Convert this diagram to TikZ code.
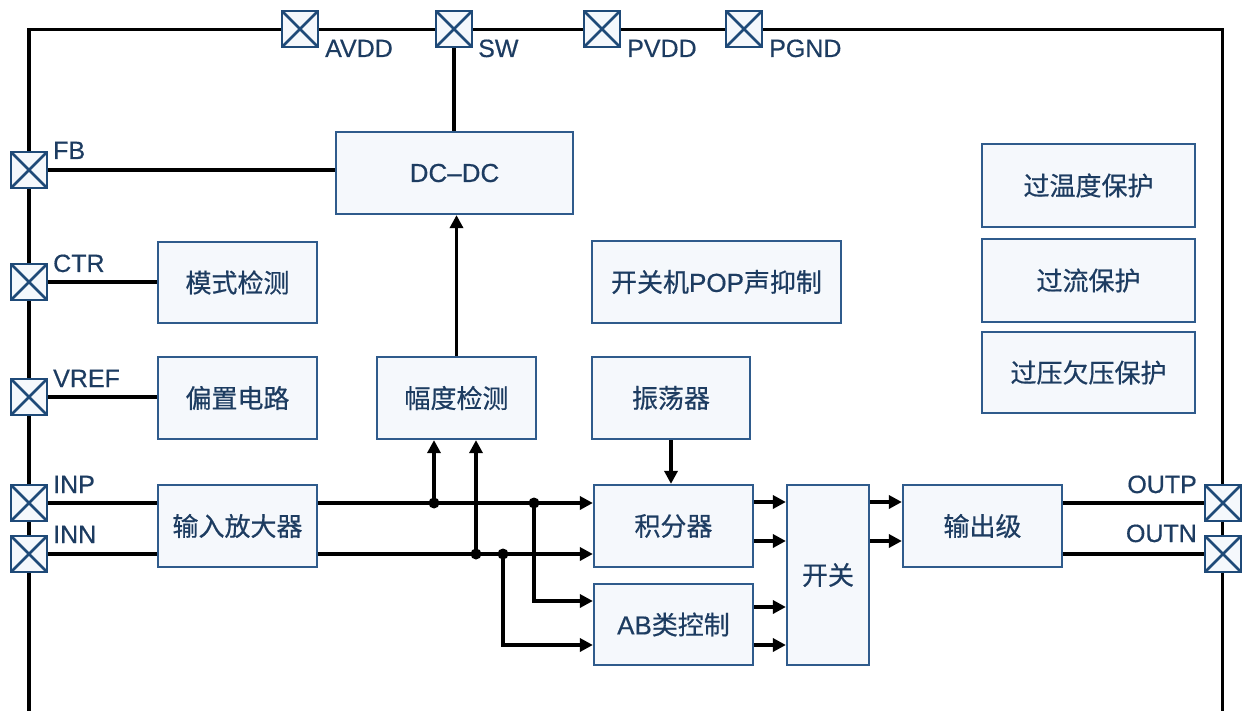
\documentclass[tikz,border=0pt]{standalone}
\usepackage{fontspec}
\setmainfont[FakeBold=0.5]{Liberation Sans}
\newfontfamily\cjk[FakeBold=0.5]{Noto Sans CJK SC}
\usetikzlibrary{arrows.meta,calc}
\definecolor{pinc}{HTML}{1F4A78}
\definecolor{boxc}{HTML}{2F5B8C}
\definecolor{txtc}{HTML}{1D3C61}
\definecolor{boxfill}{HTML}{F5F8FC}
\tikzset{
  blk/.style={draw=boxc, fill=boxfill, line width=2.2pt, text=txtc, inner sep=0pt,
    font=\fontsize{26}{30}\selectfont},
  pin/.style={draw=pinc, fill=boxfill, line width=2.8pt, minimum size=36pt, inner sep=0pt,
    path picture={\draw[pinc,line width=2.8pt]
      (path picture bounding box.north west) -- (path picture bounding box.south east)
      (path picture bounding box.south west) -- (path picture bounding box.north east);}},
  plabel/.style={text=txtc, inner sep=0pt, font=\fontsize{25}{30}\selectfont},
  wire/.style={line width=3.3pt, black},
  arr/.style={wire, -{Triangle[length=13pt,width=13pt]}},
  dot/.style={fill=black}
}
\begin{document}
\begin{tikzpicture}[x=1pt,y=-1pt]
\useasboundingbox (0,0) rectangle (1245,711);
% frame
\draw[wire] (29,711) -- (29,29.5) -- (1222.5,29.5) -- (1222.5,711);
% pins
\node[pin] (pAVDD) at (300,29) {};
\node[pin] (pSW) at (454,29) {};
\node[pin] (pPVDD) at (602,29) {};
\node[pin] (pPGND) at (744,29) {};
\node[pin] (pFB) at (29,170) {};
\node[pin] (pCTR) at (29,282) {};
\node[pin] (pVREF) at (29,397) {};
\node[pin] (pINP) at (29,503) {};
\node[pin] (pINN) at (29,554) {};
\node[pin] (pOUTP) at (1223,503) {};
\node[pin] (pOUTN) at (1223,554) {};
% pin labels
\node[plabel, anchor=base west] (lAVDD) at (325,57) {AVDD};
\node[plabel, anchor=base west] (lSW) at (478,57) {SW};
\node[plabel, anchor=base west] (lPVDD) at (627,57) {PVDD};
\node[plabel, anchor=base west] (lPGND) at (769,57) {PGND};
\node[plabel, anchor=base west] (lFB) at (53,159) {FB};
\node[plabel, anchor=base west] (lCTR) at (53,272) {CTR};
\node[plabel, anchor=base west] (lVREF) at (53,387) {VREF};
\node[plabel, anchor=base west] (lINP) at (53,493) {INP};
\node[plabel, anchor=base west] (lINN) at (53,543) {INN};
\node[plabel, anchor=base east] (lOUTP) at (1197,493) {OUTP};
\node[plabel, anchor=base east] (lOUTN) at (1197,542) {OUTN};
% blocks
\node[blk, minimum width=237pt, minimum height=82pt] (dcdc) at (454.5,173) {DC–DC};
\node[blk, minimum width=159pt, minimum height=81pt] (mode) at (237.5,282.5) {\cjk 模式检测};
\node[blk, minimum width=159pt, minimum height=82pt] (bias) at (237.5,398) {\cjk 偏置电路};
\node[blk, minimum width=159pt, minimum height=82pt] (fd) at (456.5,398) {\cjk 幅度检测};
\node[blk, minimum width=249pt, minimum height=82pt] (pop) at (716.5,282) {{\cjk 开关机}POP{\cjk 声抑制}};
\node[blk, minimum width=158pt, minimum height=82pt] (osc) at (671,398) {\cjk 振荡器};
\node[blk, minimum width=213pt, minimum height=83pt] (otp) at (1088.5,185.5) {\cjk 过温度保护};
\node[blk, minimum width=213pt, minimum height=83pt] (ocp) at (1088.5,280.5) {\cjk 过流保护};
\node[blk, minimum width=213pt, minimum height=81pt] (ovp) at (1088.5,372.5) {\cjk 过压欠压保护};
\node[blk, minimum width=159pt, minimum height=82pt] (inamp) at (237.5,526) {\cjk 输入放大器};
\node[blk, minimum width=159pt, minimum height=82pt] (integ) at (673.5,526) {\cjk 积分器};
\node[blk, minimum width=159pt, minimum height=81pt] (abc) at (673.5,624.5) {AB{\cjk 类控制}};
\node[blk, minimum width=82pt, minimum height=180pt] (swbox) at (828,575) {\cjk 开关};
\node[blk, minimum width=159pt, minimum height=82pt] (outst) at (982.5,526) {\cjk 输出级};
% helper coordinates
\coordinate (ya) at (0,502);
\coordinate (yb) at (0,541);
\coordinate (yc) at (0,607);
\coordinate (yd) at (0,645);
\coordinate (ye) at (0,601);
\coordinate (d1) at (434,503);
\coordinate (d2) at (476,554);
\coordinate (d3) at (534,503);
\coordinate (d4) at (503,554);
% pin wires
\draw[wire] (pSW.south) -- (pSW.south |- dcdc.north);
\draw[wire] (pFB.east) -- (pFB -| dcdc.west);
\draw[wire] (pCTR.east) -- (pCTR -| mode.west);
\draw[wire] (pVREF.east) -- (pVREF -| bias.west);
\draw[wire] (pINP.east) -- (pINP -| inamp.west);
\draw[wire] (pINN.east) -- (pINN -| inamp.west);
\draw[wire] (outst.east |- pOUTP) -- (pOUTP.west);
\draw[wire] (outst.east |- pOUTN) -- (pOUTN.west);
% internal signal paths
\draw[arr] (inamp.east |- pINP) -- (integ.west |- pINP);
\draw[arr] (inamp.east |- pINN) -- (integ.west |- pINN);
\draw[arr] (d1) -- (d1 |- fd.south);
\draw[arr] (d2) -- (d2 |- fd.south);
\draw[arr] (d3) |- (abc.west |- ye);
\draw[arr] (d4) |- (abc.west |- yd);
\fill[dot] (d1) circle[radius=5.5pt];
\fill[dot] (d2) circle[radius=5.5pt];
\fill[dot] (d3) circle[radius=5.5pt];
\fill[dot] (d4) circle[radius=5.5pt];
\draw[arr] (fd.north) -- (fd.north |- dcdc.south);
\draw[arr] (osc.south) -- (osc.south |- integ.north);
\draw[arr] (integ.east |- ya) -- (swbox.west |- ya);
\draw[arr] (integ.east |- yb) -- (swbox.west |- yb);
\draw[arr] (abc.east |- yc) -- (swbox.west |- yc);
\draw[arr] (abc.east |- yd) -- (swbox.west |- yd);
\draw[arr] (swbox.east |- ya) -- (outst.west |- ya);
\draw[arr] (swbox.east |- yb) -- (outst.west |- yb);
\end{tikzpicture}
\end{document}
